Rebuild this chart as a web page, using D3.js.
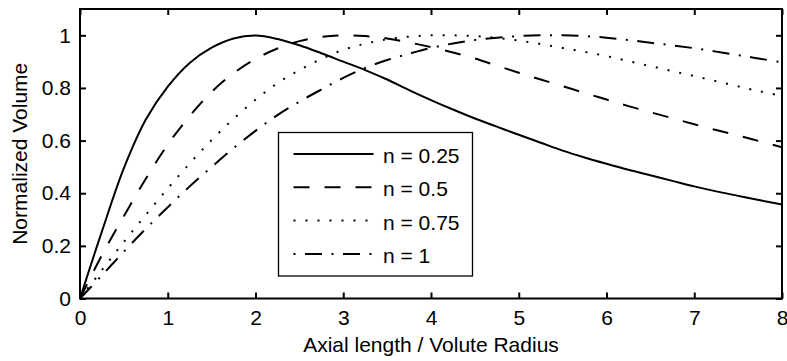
<!DOCTYPE html>
<html>
<head>
<meta charset="utf-8">
<script src="https://cdn.jsdelivr.net/npm/d3@7"></script>
<style>
  html, body { margin: 0; padding: 0; background: #fff; }
  svg { display: block; }
  text { font-family: "Liberation Sans", Arial, Helvetica, sans-serif; fill: #000; }
</style>
</head>
<body>
<svg id="chart" width="787" height="361"></svg>
<script>
// Axial length / volute radius samples
const xValues = [0, 0.25, 0.5, 0.75, 1, 1.25, 1.5, 1.75, 2, 2.25, 2.5, 2.75, 3, 3.25, 3.5, 3.75,
                 4, 4.25, 4.5, 4.75, 5, 5.25, 5.5, 5.75, 6, 6.25, 6.5, 6.75, 7, 7.25, 7.5, 7.75, 8];

// Normalized volume for each exponent n
const volN025 = [0, 0.255, 0.495, 0.68, 0.805, 0.895, 0.953, 0.988, 0.999, 0.986, 0.962, 0.932, 0.9, 0.868, 0.832, 0.792,
                 0.754, 0.718, 0.684, 0.653, 0.622, 0.592, 0.562, 0.536, 0.512, 0.489, 0.468, 0.447, 0.426, 0.407, 0.39, 0.373, 0.357];
const volN050 = [0, 0.165, 0.313, 0.455, 0.585, 0.693, 0.785, 0.856, 0.91, 0.95, 0.978, 0.994, 1.0, 0.997, 0.988, 0.973,
                 0.955, 0.935, 0.912, 0.885, 0.858, 0.832, 0.807, 0.781, 0.756, 0.731, 0.708, 0.685, 0.662, 0.64, 0.619, 0.597, 0.575];
const volN075 = [0, 0.108, 0.215, 0.318, 0.418, 0.513, 0.602, 0.683, 0.755, 0.818, 0.868, 0.91, 0.945, 0.968, 0.985, 0.995,
                 1.0, 1.0, 0.997, 0.99, 0.98, 0.967, 0.952, 0.937, 0.921, 0.902, 0.883, 0.864, 0.845, 0.826, 0.806, 0.787, 0.77];
const volN100 = [0, 0.088, 0.178, 0.265, 0.347, 0.426, 0.5, 0.571, 0.637, 0.697, 0.748, 0.794, 0.838, 0.876, 0.906, 0.93,
                 0.952, 0.969, 0.982, 0.991, 0.997, 1.0, 1.0, 0.997, 0.991, 0.982, 0.972, 0.962, 0.951, 0.938, 0.925, 0.911, 0.897];

const seriesNames = ["n = 0.25", "n = 0.5", "n = 0.75", "n = 1"];
const seriesValues = [volN025, volN050, volN075, volN100];
const seriesDash = [null, "16,15", "2,10", "17,9.5,2,9.5"];
const legendDashOffset = [0, 0, 0, 26.5];

const xTicks = [0, 1, 2, 3, 4, 5, 6, 7, 8];
const yTicks = [0, 0.2, 0.4, 0.6, 0.8, 1];
const xLabel = "Axial length / Volute Radius";
const yLabel = "Normalized Volume";

const svg = d3.select("#chart");
const box = { left: 80, right: 782, top: 9, bottom: 298.5 };
const fontSize = 21;

const x = d3.scaleLinear().domain([0, 8]).range([box.left, box.right]);
const y = d3.scaleLinear().domain([0, 1.1]).range([box.bottom, box.top]);

svg.append("defs").append("clipPath").attr("id", "plot-clip")
  .append("rect")
  .attr("x", box.left).attr("y", box.top)
  .attr("width", box.right - box.left).attr("height", box.bottom - box.top);

// Curves
const line = d3.line()
  .x(d => x(d[0]))
  .y(d => y(d[1]))
  .curve(d3.curveCatmullRom.alpha(0.5));

const curves = svg.append("g").attr("clip-path", "url(#plot-clip)");
seriesValues.forEach((vals, i) => {
  curves.append("path")
    .datum(xValues.map((xv, j) => [xv, vals[j]]))
    .attr("d", line)
    .attr("fill", "none")
    .attr("stroke", "#000")
    .attr("stroke-width", 2)
    .attr("stroke-dasharray", seriesDash[i]);
});

// Axes with inward ticks on all four sides
function styleAxis(g) {
  g.select(".domain").remove();
  g.selectAll(".tick line").attr("stroke", "#000").attr("stroke-width", 2);
  g.selectAll(".tick text").attr("font-size", fontSize).attr("fill", "#000");
}

svg.append("g")
  .attr("transform", `translate(0,${box.bottom})`)
  .call(d3.axisBottom(x).tickValues(xTicks).tickFormat(d3.format("d"))
    .tickSizeInner(-6).tickSizeOuter(0).tickPadding(12))
  .call(styleAxis)
  .attr("font-family", null);

svg.append("g")
  .attr("transform", `translate(0,${box.top})`)
  .call(d3.axisTop(x).tickValues(xTicks).tickFormat("")
    .tickSizeInner(-6).tickSizeOuter(0))
  .call(styleAxis);

svg.append("g")
  .attr("transform", `translate(${box.left},0)`)
  .call(d3.axisLeft(y).tickValues(yTicks).tickFormat(d => d === 0 || d === 1 ? d3.format("d")(d) : d3.format(".1f")(d))
    .tickSizeInner(-6).tickSizeOuter(0).tickPadding(9))
  .call(styleAxis)
  .attr("font-family", null);

svg.append("g")
  .attr("transform", `translate(${box.right},0)`)
  .call(d3.axisRight(y).tickValues(yTicks).tickFormat("")
    .tickSizeInner(-6).tickSizeOuter(0))
  .call(styleAxis);

// Frame
svg.append("rect")
  .attr("x", box.left).attr("y", box.top)
  .attr("width", box.right - box.left).attr("height", box.bottom - box.top)
  .attr("fill", "none").attr("stroke", "#000").attr("stroke-width", 2);

// Axis titles
svg.append("text")
  .attr("x", (box.left + box.right) / 2)
  .attr("y", 352)
  .attr("text-anchor", "middle")
  .attr("font-size", fontSize)
  .text(xLabel);

svg.append("text")
  .attr("transform", `translate(27,${(box.top + box.bottom) / 2}) rotate(-90)`)
  .attr("text-anchor", "middle")
  .attr("font-size", fontSize)
  .text(yLabel);

// Legend
const legend = svg.append("g");
const lg = { x0: 278.5, y0: 132.5, x1: 472.5, y1: 276 };
legend.append("rect")
  .attr("x", lg.x0).attr("y", lg.y0)
  .attr("width", lg.x1 - lg.x0).attr("height", lg.y1 - lg.y0)
  .attr("fill", "#fff").attr("stroke", "#000").attr("stroke-width", 1.3);

const rowY = [154, 187.3, 220.5, 254];
seriesNames.forEach((name, i) => {
  legend.append("line")
    .attr("x1", 293.5).attr("x2", 373.5)
    .attr("y1", rowY[i]).attr("y2", rowY[i])
    .attr("stroke", "#000").attr("stroke-width", 2)
    .attr("stroke-dasharray", seriesDash[i])
    .attr("stroke-dashoffset", legendDashOffset[i]);
  legend.append("text")
    .attr("x", 383)
    .attr("y", rowY[i] + 9)
    .attr("font-size", fontSize)
    .text(name);
});
</script>
</body>
</html>
